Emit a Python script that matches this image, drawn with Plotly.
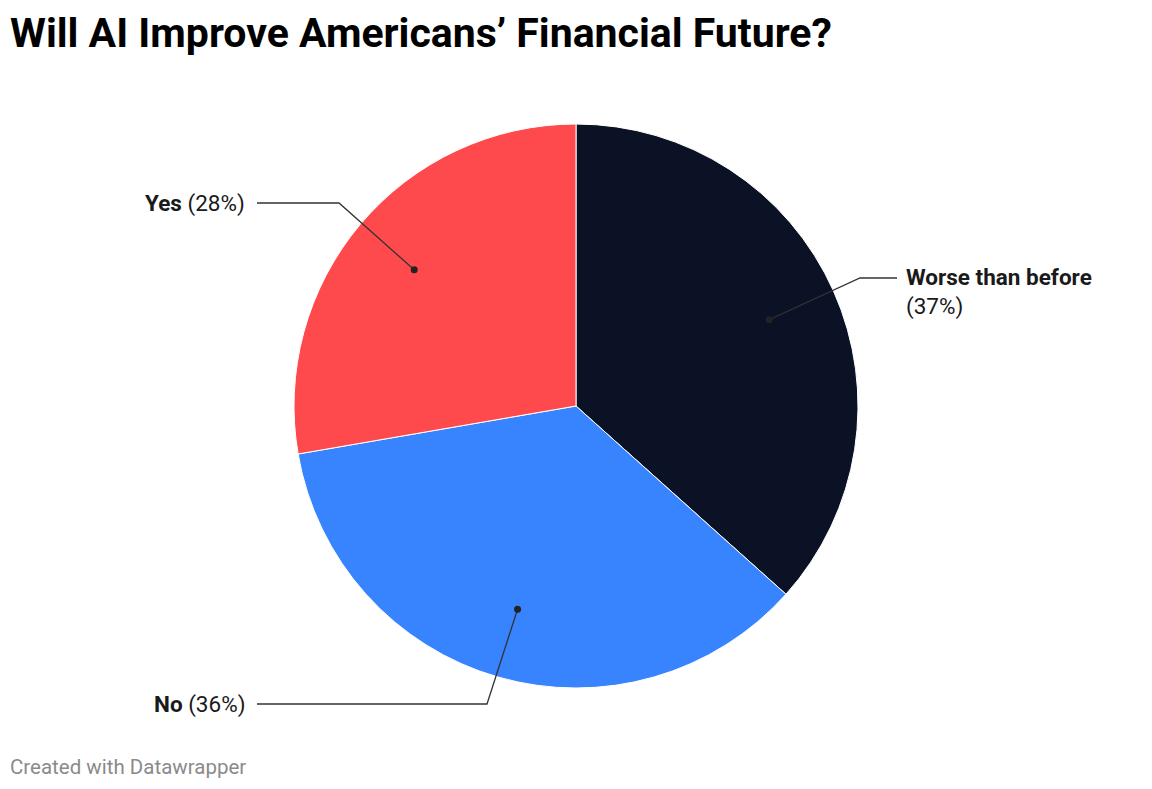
import math
import plotly.graph_objects as go

# ---- data ----
categories = ["Worse than before", "No", "Yes"]
values = [37, 36, 28]
colors = ["#0c1226", "#3884ff", "#ff4a4d"]
label_texts = ["<b>Worse than before</b><br>(37%)", "<b>No</b> (36%)", "<b>Yes</b> (28%)"]

W, H = 1152, 789
OFF = 8  # page body margin
CX, CY, R = 576, 406, 282  # pie geometry in screen pixels


def px(x):
    return (x - OFF) / W


def py(y):
    return 1 - (y - OFF) / H


fig = go.Figure()
fig.add_trace(go.Pie(
    labels=categories, values=values, sort=False, direction="clockwise", rotation=0,
    marker=dict(colors=colors, line=dict(color="white", width=1)),
    textinfo="none", hoverinfo="label+percent", showlegend=False,
    domain=dict(x=[px(CX - R), px(CX + R)], y=[py(CY + R), py(CY - R)]),
))

# dot positions computed from data (mid-angle of each slice, 0.75 radius)
total = sum(values)
cum = 0
dots = []
for v in values:
    mid = (cum + v / 2) / total * 2 * math.pi
    cum += v
    dots.append((CX + 0.75 * R * math.sin(mid), CY - 0.75 * R * math.cos(mid)))

# label layout: (elbow point, line end, text anchor x, text y, align)
layouts = [
    dict(elbow=(860, 278), end=(897, 278), tx=904, ty=292, xanchor="left"),
    dict(elbow=(487, 704), end=(257, 704), tx=247, ty=704, xanchor="right"),
    dict(elbow=(339, 203), end=(257, 203), tx=247, ty=203, xanchor="right"),
]

shapes = []
annotations = []
for (dx, dy), lay, txt in zip(dots, layouts, label_texts):
    ex, ey = lay["elbow"]
    nx, ny = lay["end"]
    path = f"M {px(dx)} {py(dy)} L {px(ex)} {py(ey)} L {px(nx)} {py(ny)}"
    shapes.append(dict(type="path", xref="paper", yref="paper", path=path,
                       line=dict(color="#333333", width=1.3)))
    r = 3.5
    shapes.append(dict(type="circle", xref="paper", yref="paper",
                       x0=px(dx - r), x1=px(dx + r), y0=py(dy + r), y1=py(dy - r),
                       fillcolor="#222222", line=dict(width=0)))
    annotations.append(dict(xref="paper", yref="paper", x=px(lay["tx"]), y=py(lay["ty"]),
                            text=txt, showarrow=False, xanchor=lay["xanchor"], yanchor="middle",
                            align="left", font=dict(family="Roboto", size=22.5, color="#1a1a1a")))

annotations.append(dict(xref="paper", yref="paper", x=px(8), y=py(33),
                        text="<b>Will AI Improve Americans’ Financial Future?</b>",
                        showarrow=False, xanchor="left", yanchor="middle",
                        font=dict(family="Roboto", size=41, color="#000000")))
annotations.append(dict(xref="paper", yref="paper", x=px(8), y=py(767),
                        text="Created with Datawrapper", showarrow=False,
                        xanchor="left", yanchor="middle",
                        font=dict(family="Roboto", size=20.5, color="#8a8a8a")))

fig.update_layout(width=W, height=H, margin=dict(l=0, r=0, t=0, b=0),
                  paper_bgcolor="white", plot_bgcolor="white",
                  shapes=shapes, annotations=annotations)

fig.write_html("out.html")
